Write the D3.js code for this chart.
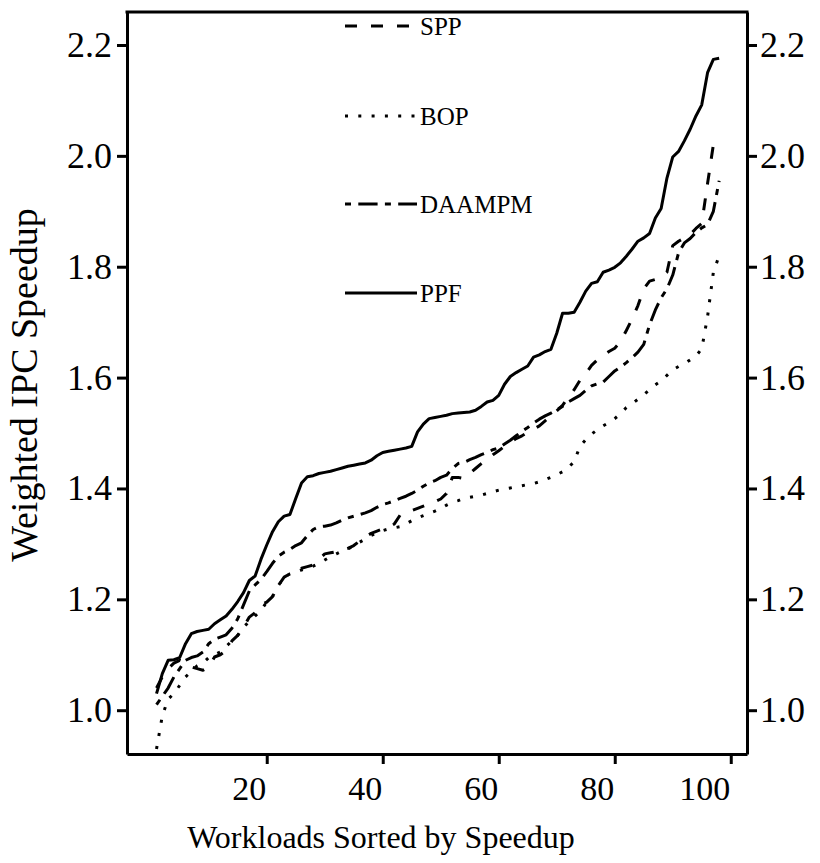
<!DOCTYPE html>
<html>
<head>
<meta charset="utf-8">
<script src="https://cdn.jsdelivr.net/npm/d3@7"></script>
<style>
	body { margin: 0; background: #fff; }
	svg text { font-family: "Liberation Serif", "Times New Roman", serif; fill: #000; }
</style>
</head>
<body>
<div id="chart"></div>
<script>
'use strict'

/**
 * Weighted IPC speedup per workload, sorted, for four prefetchers.
 */

// values, workload n = index + 1
const spp = [1.040, 1.060, 1.075, 1.085, 1.090, 1.085, 1.078, 1.075, 1.072, 1.078,
	1.096, 1.100, 1.108, 1.125, 1.135, 1.150, 1.168, 1.176, 1.190, 1.195,
	1.205, 1.225, 1.240, 1.246, 1.252, 1.256, 1.259, 1.262, 1.272, 1.282,
	1.284, 1.286, 1.289, 1.292, 1.297, 1.305, 1.313, 1.319, 1.323, 1.327,
	1.330, 1.336, 1.352, 1.357, 1.360, 1.364, 1.368, 1.372, 1.376, 1.381,
	1.391, 1.420, 1.420, 1.418, 1.427, 1.436, 1.445, 1.453, 1.461, 1.468,
	1.476, 1.483, 1.490, 1.495, 1.501, 1.507, 1.513, 1.522, 1.531, 1.540,
	1.550, 1.565, 1.578, 1.595, 1.607, 1.622, 1.632, 1.640, 1.647, 1.653,
	1.665, 1.685, 1.706, 1.730, 1.760, 1.774, 1.777, 1.780, 1.790, 1.838,
	1.846, 1.852, 1.858, 1.869, 1.878, 1.950, 2.020];

const bop = [0.930, 0.990, 1.020, 1.030, 1.045, 1.060, 1.070, 1.080, 1.085, 1.095,
	1.100, 1.105, 1.115, 1.125, 1.135, 1.150, 1.160, 1.170, 1.180, 1.195,
	1.205, 1.225, 1.240, 1.246, 1.250, 1.253, 1.256, 1.260, 1.265, 1.271,
	1.277, 1.282, 1.287, 1.291, 1.296, 1.303, 1.309, 1.315, 1.320, 1.324,
	1.327, 1.329, 1.331, 1.336, 1.342, 1.347, 1.351, 1.355, 1.359, 1.364,
	1.370, 1.375, 1.378, 1.382, 1.384, 1.386, 1.388, 1.391, 1.394, 1.397,
	1.399, 1.401, 1.403, 1.405, 1.407, 1.409, 1.412, 1.416, 1.420, 1.425,
	1.430, 1.438, 1.448, 1.476, 1.488, 1.498, 1.506, 1.513, 1.519, 1.526,
	1.535, 1.546, 1.553, 1.561, 1.569, 1.578, 1.587, 1.594, 1.604, 1.614,
	1.620, 1.625, 1.632, 1.639, 1.652, 1.710, 1.790, 1.820];

const daampm = [1.010, 1.025, 1.040, 1.060, 1.075, 1.090, 1.095, 1.098, 1.105, 1.120,
	1.128, 1.132, 1.136, 1.148, 1.165, 1.190, 1.215, 1.226, 1.236, 1.250,
	1.265, 1.278, 1.285, 1.290, 1.297, 1.302, 1.315, 1.326, 1.331, 1.332,
	1.334, 1.338, 1.343, 1.347, 1.350, 1.353, 1.356, 1.360, 1.366, 1.371,
	1.374, 1.378, 1.382, 1.386, 1.391, 1.397, 1.404, 1.410, 1.414, 1.420,
	1.424, 1.436, 1.445, 1.447, 1.452, 1.456, 1.461, 1.465, 1.470, 1.473,
	1.480, 1.487, 1.495, 1.503, 1.510, 1.518, 1.525, 1.531, 1.536, 1.542,
	1.548, 1.556, 1.562, 1.568, 1.577, 1.585, 1.589, 1.592, 1.602, 1.612,
	1.619, 1.627, 1.636, 1.646, 1.660, 1.695, 1.722, 1.744, 1.760, 1.785,
	1.825, 1.843, 1.851, 1.862, 1.870, 1.876, 1.900, 1.955];

const ppf = [1.030, 1.066, 1.090, 1.091, 1.095, 1.120, 1.138, 1.142, 1.144, 1.146,
	1.156, 1.163, 1.170, 1.182, 1.196, 1.212, 1.234, 1.242, 1.272, 1.298,
	1.322, 1.340, 1.350, 1.353, 1.382, 1.410, 1.421, 1.423, 1.427, 1.429,
	1.431, 1.434, 1.437, 1.440, 1.442, 1.444, 1.446, 1.451, 1.459, 1.465,
	1.467, 1.469, 1.471, 1.473, 1.476, 1.502, 1.516, 1.526, 1.528, 1.530,
	1.532, 1.535, 1.536, 1.537, 1.538, 1.541, 1.548, 1.556, 1.559, 1.568,
	1.588, 1.602, 1.609, 1.615, 1.621, 1.637, 1.641, 1.647, 1.651, 1.680,
	1.716, 1.716, 1.718, 1.736, 1.756, 1.770, 1.773, 1.790, 1.794, 1.799,
	1.807, 1.819, 1.832, 1.846, 1.852, 1.860, 1.888, 1.905, 1.960, 1.998,
	2.008, 2.027, 2.048, 2.072, 2.092, 2.150, 2.174, 2.176];

const seriesNames = ['SPP', 'BOP', 'DAAMPM', 'PPF'];
const seriesValues = [spp, bop, daampm, ppf];
const seriesDash = ['12,14', '3,10.3', '6,7.3,19.3,7.3', null];

const yTicks = [1.0, 1.2, 1.4, 1.6, 1.8, 2.0, 2.2];
const xTicks = [20, 40, 60, 80, 100];

const width = 820;
const height = 863;
const plot = { left: 127, right: 747, top: 12, bottom: 754 };

const svg = d3.select('#chart')
	.append('svg')
	.attr('width', width)
	.attr('height', height);

const x = d3.scaleLinear()
	.domain([-4.09, 102.8])
	.range([plot.left, plot.right]);

const y = d3.scaleLinear()
	.domain([0.921, 2.2595])
	.range([plot.bottom, plot.top]);

// frame: top line only, axes draw the other three sides
svg.append('line')
	.attr('x1', plot.left).attr('x2', plot.right)
	.attr('y1', plot.top).attr('y2', plot.top)
	.attr('stroke', '#000').attr('stroke-width', 3)
	.attr('stroke-linecap', 'square');

function styleAxis(g, size) {
	g.select('.domain').attr('stroke-width', 3);
	g.selectAll('.tick line').attr('stroke-width', 3);
	g.selectAll('.tick text')
		.style('font-family', '"Liberation Serif", serif')
		.attr('font-size', size)
		.attr('fill', '#000');
}

svg.append('g')
	.attr('transform', `translate(${plot.left},0)`)
	.call(d3.axisLeft(y).tickValues(yTicks).tickFormat(d3.format('.1f'))
		.tickSize(10).tickSizeOuter(0).tickPadding(5))
	.call(styleAxis, 36);

svg.append('g')
	.attr('transform', `translate(${plot.right},0)`)
	.call(d3.axisRight(y).tickValues(yTicks).tickFormat(d3.format('.1f'))
		.tickSize(10).tickSizeOuter(0).tickPadding(3))
	.call(styleAxis, 36);

const bottomAxis = svg.append('g')
	.attr('transform', `translate(0,${plot.bottom})`)
	.call(d3.axisBottom(x).tickValues(xTicks).tickFormat(d3.format('d'))
		.tickSize(10).tickSizeOuter(0).tickPadding(12))
	.call(styleAxis, 34);

// labels sit right-aligned on the tick in the reference
bottomAxis.selectAll('.tick text')
	.attr('text-anchor', 'end')
	.attr('dx', -1);

// axis titles
svg.append('text')
	.attr('x', 381)
	.attr('y', 848)
	.attr('text-anchor', 'middle')
	.attr('font-size', 32)
	.text('Workloads Sorted by Speedup');

svg.append('text')
	.attr('transform', `translate(37,385) rotate(-90)`)
	.attr('text-anchor', 'middle')
	.attr('font-size', 38)
	.text('Weighted IPC Speedup');

// curves
const line = d3.line()
	.x((d, i) => x(i + 1))
	.y(d => y(d));

svg.append('g')
	.selectAll('path')
	.data(seriesValues)
	.enter()
	.append('path')
		.attr('d', line)
		.attr('fill', 'none')
		.attr('stroke', '#000')
		.attr('stroke-width', 3)
		.attr('stroke-linejoin', 'round')
		.attr('stroke-dasharray', (d, i) => seriesDash[i]);

// legend
const legendY = [26, 116, 204, 293];
const legend = svg.append('g')
	.selectAll('g')
	.data(seriesNames)
	.enter()
	.append('g')
		.attr('transform', (d, i) => `translate(345,${legendY[i]})`);

legend.append('line')
	.attr('x1', 0).attr('x2', 72)
	.attr('stroke', '#000')
	.attr('stroke-width', 3)
	.attr('stroke-dasharray', (d, i) => seriesDash[i]);

legend.append('text')
	.attr('x', 75)
	.attr('dy', '0.35em')
	.attr('font-size', 25)
	.text(d => d);
</script>
</body>
</html>
